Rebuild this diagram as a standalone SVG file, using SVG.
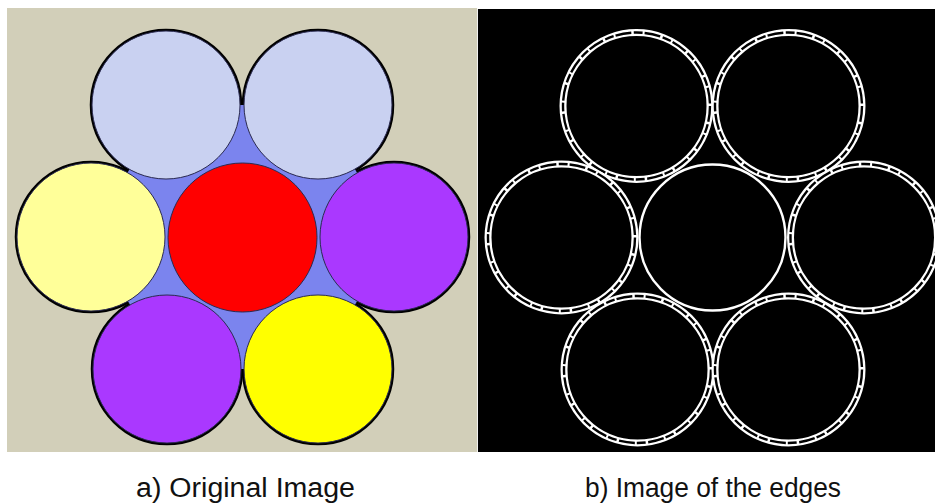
<svg xmlns="http://www.w3.org/2000/svg" width="935" height="504" viewBox="0 0 935 504">
<defs>
<style>
.thick{fill:none;stroke:#000;stroke-width:3.5}
.fillc{stroke:#2a2a50;stroke-width:1}
.ringW{fill:none;stroke:#fff;stroke-width:7}
.ringB{fill:none;stroke:#000;stroke-width:2.4;stroke-dasharray:16 2.5 9 2}
.cap{font-family:"Liberation Sans",Arial,sans-serif;font-size:27px;fill:#111}
</style>
<filter id="soft" x="-10%" y="-10%" width="120%" height="120%"><feGaussianBlur stdDeviation="0.6"/></filter>
</defs>
<rect width="935" height="504" fill="#fff"/>
<!-- Panel a -->
<g id="panel-a">
<rect x="7" y="8" width="470" height="444" fill="#d2cfb9"/>
<g id="outlines-a">
<circle class="thick" cx="166" cy="105" r="74.5"/>
<circle class="thick" cx="318" cy="105" r="74.5"/>
<circle class="thick" cx="91" cy="237" r="74.5"/>
<circle class="thick" cx="394" cy="237" r="74.5"/>
<circle class="thick" cx="167" cy="369" r="74.5"/>
<circle class="thick" cx="318" cy="369" r="74.5"/>
</g>
<polygon id="gap-fill" points="166,105 318,105 394,237 318,369 167,369 91,237" fill="#7b84ee"/>
<g id="a-top-left"><circle class="fillc" cx="166" cy="105" r="74" fill="#c9d1f1"/></g>
<g id="a-top-right"><circle class="fillc" cx="318" cy="105" r="74" fill="#c9d1f1"/></g>
<g id="a-left"><circle class="fillc" cx="91" cy="237" r="74" fill="#ffff99"/></g>
<g id="a-center"><circle class="fillc" cx="242.5" cy="237.5" r="74.5" fill="#ff0000"/></g>
<g id="a-right"><circle class="fillc" cx="394" cy="237" r="74" fill="#aa38ff"/></g>
<g id="a-bottom-left"><circle class="fillc" cx="167" cy="369" r="74" fill="#aa38ff"/></g>
<g id="a-bottom-right"><circle class="fillc" cx="318" cy="369" r="74" fill="#ffff00"/></g>
</g>
<!-- Panel b -->
<g id="panel-b">
<rect x="477" y="9" width="1" height="443" fill="#f0f0f0"/>
<rect x="478" y="9" width="457" height="443" fill="#000"/>
<g id="b-center"><circle cx="712.5" cy="237.5" r="73" fill="none" stroke="#fff" stroke-width="2.4" filter="url(#soft)"/></g>
<g id="b-top-left"><circle class="ringW" cx="636.5" cy="106" r="73.5"/><circle class="ringB" cx="636.5" cy="106" r="73.5"/></g>
<g id="b-top-right"><circle class="ringW" cx="788.5" cy="106" r="73.5"/><circle class="ringB" cx="788.5" cy="106" r="73.5"/></g>
<g id="b-left"><circle class="ringW" cx="561.5" cy="237.5" r="73.5"/><circle class="ringB" cx="561.5" cy="237.5" r="73.5"/></g>
<g id="b-right"><circle class="ringW" cx="864" cy="237.5" r="73.5"/><circle class="ringB" cx="864" cy="237.5" r="73.5"/></g>
<g id="b-bottom-left"><circle class="ringW" cx="637.5" cy="369.5" r="73.5"/><circle class="ringB" cx="637.5" cy="369.5" r="73.5"/></g>
<g id="b-bottom-right"><circle class="ringW" cx="788.5" cy="369.5" r="73.5"/><circle class="ringB" cx="788.5" cy="369.5" r="73.5"/></g>
</g>
<g id="captions">
<text class="cap" x="136" y="497" textLength="219" lengthAdjust="spacingAndGlyphs">a) Original Image</text>
<text class="cap" x="585" y="497" textLength="256" lengthAdjust="spacingAndGlyphs">b) Image of the edges</text>
</g>
</svg>
